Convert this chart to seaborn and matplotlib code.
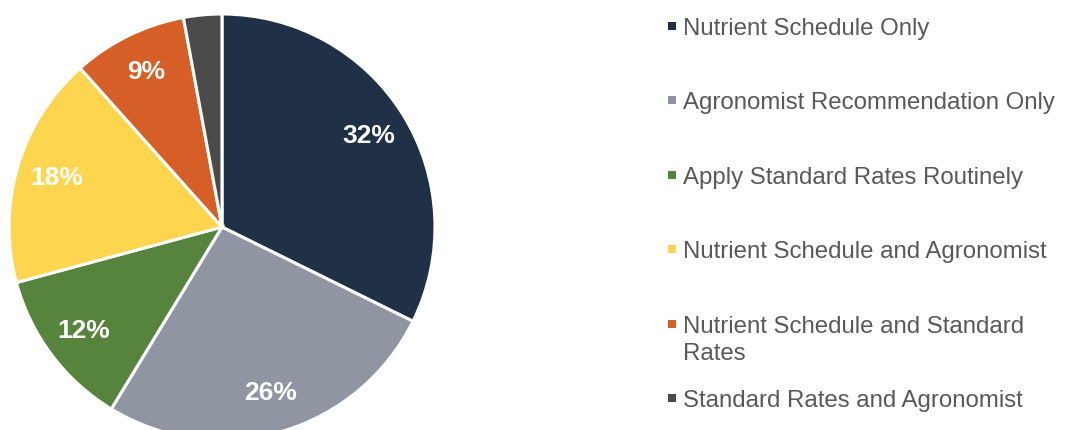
"""Pie chart: how nutrient application rates are decided."""

import matplotlib

matplotlib.use("Agg")
import matplotlib.pyplot as plt
import seaborn as sns

categories = [
    "Nutrient Schedule Only",
    "Agronomist Recommendation Only",
    "Apply Standard Rates Routinely",
    "Nutrient Schedule and Agronomist",
    "Nutrient Schedule and Standard\nRates",
    "Standard Rates and Agronomist",
]
# shares (labels show them rounded)
shares = [32.3, 26.4, 12.1, 17.6, 8.7, 2.9]
slice_colors = ["#1f3047", "#8f95a1", "#56843c", "#fdd54f", "#d55f27", "#4b4b4b"]

W, H = 1067, 430

sns.set_theme(style="white")
plt.rcParams["font.family"] = ["Liberation Sans", "DejaVu Sans"]

palette = sns.color_palette(slice_colors)

fig = plt.figure(figsize=(W / 100, H / 100), dpi=100)

# legend drawn in a full-figure pixel-space axes
lax = fig.add_axes([0, 0, 1, 1])
lax.set_xlim(0, W)
lax.set_ylim(H, 0)
lax.axis("off")

first_baseline = 35
row_step = 74.4
line_step = 27
for i, (label, col) in enumerate(zip(categories, palette)):
    base = first_baseline + i * row_step
    lax.scatter([672], [base - 9], marker="s", s=26, color=col, linewidths=0)
    for j, line in enumerate(label.split("\n")):
        lax.text(683, base + j * line_step, line, va="baseline", ha="left",
                 fontsize=17.3, color="#595959")

# pie, centred at (222, 227) px with radius 213 px
r = 213
cx, cy = 222, 227
ax = fig.add_axes([(cx - r) / W, (H - cy - r) / H, 2 * r / W, 2 * r / H])
wedges, texts, autotexts = ax.pie(
    shares,
    colors=palette,
    startangle=90,
    counterclock=False,
    autopct=lambda p: f"{p:.0f}%" if p > 5 else "",
    pctdistance=0.81,
    wedgeprops=dict(edgecolor="white", linewidth=2.2),
)
for t in autotexts:
    t.set_color("white")
    t.set_fontsize(19)
    t.set_fontweight("bold")
ax.set_xlim(-1, 1)
ax.set_ylim(-1, 1)
ax.set_aspect("equal")

fig.savefig("out.png", dpi=100, facecolor="white")
plt.close(fig)
